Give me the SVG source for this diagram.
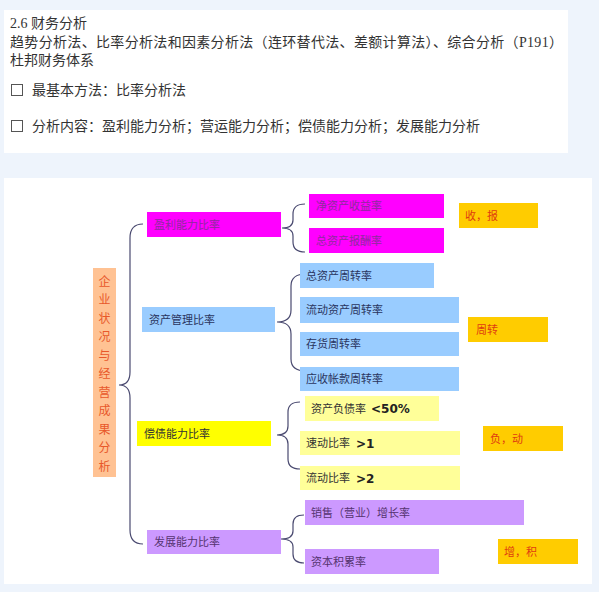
<svg xmlns="http://www.w3.org/2000/svg" width="599" height="592" viewBox="0 0 599 592">
<style>
.hd{font-family:"Liberation Serif","Noto Sans CJK SC",serif;font-size:14px;fill:#333}
.bx{font-family:"Noto Sans CJK SC",sans-serif;font-size:11px}
.br{fill:none;stroke:#4a4a70;stroke-width:1.2}
.gold{fill:#ffcc00}
.gt{fill:#e03c10}
.mag{fill:#ff00ff}
.mt{fill:#8e2a9e}
.blu{fill:#99ccff}
.bt{fill:#2a3560}
.lav{fill:#cc99ff}
.lt{fill:#553470}
.ly{fill:#ffff99}
.yt{fill:#333}
.num{font-family:"DejaVu Sans","Liberation Sans",sans-serif;font-weight:bold;font-size:12px;fill:#222}
</style>
<rect width="599" height="592" fill="#eef4fc"/>
<rect x="4" y="10" width="564" height="143" fill="#fff"/>
<rect x="4" y="178" width="588" height="406" fill="#fff"/>
<g id="header">
<text class="hd" x="10" y="28">2.6 财务分析</text>
<text class="hd" x="10" y="47" textLength="553" lengthAdjust="spacing">趋势分析法、比率分析法和因素分析法（连环替代法、差额计算法）、综合分析（P191）</text>
<text class="hd" x="10" y="65">杜邦财务体系</text>
<rect x="11.5" y="84.5" width="11" height="11" fill="none" stroke="#555" stroke-width="1"/>
<text class="hd" x="32" y="95">最基本方法：比率分析法</text>
<rect x="11.5" y="120.5" width="11" height="11" fill="none" stroke="#555" stroke-width="1"/>
<text class="hd" x="32" y="131">分析内容：盈利能力分析；营运能力分析；偿债能力分析；发展能力分析</text>
</g>
<g id="connectors">
<path class="br" d="M143 224 Q130 224 130 238 L130 372 Q130 385 119 385 Q130 385 130 398 L130 530 Q130 544 143 544"/>
<path class="br" d="M305 204 Q293 204 293 214 L293 220 Q293 228 282 228 Q293 228 293 236 L293 242 Q293 252 305 252"/>
<path class="br" d="M306 274 Q291 274 291 286 L291 310 Q291 322 277 322 Q291 322 291 334 L291 359 Q291 371 306 371"/>
<path class="br" d="M300 402 Q288 402 288 412 L288 426 Q288 435 277 435 Q288 435 288 444 L288 459 Q288 469 300 469"/>
<path class="br" d="M304 515 Q293 515 293 524 L293 531 Q293 539 281 539 Q293 539 293 547 L293 554 Q293 563 304 563"/>
</g>
<g id="root">
<rect x="93" y="268" width="23" height="209" fill="#ffc293"/>
<g font-family="Noto Sans CJK SC,sans-serif" font-size="12" fill="#e8582a" text-anchor="middle">
<text x="104.5" y="285.5">企</text>
<text x="104.5" y="304">业</text>
<text x="104.5" y="322.5">状</text>
<text x="104.5" y="341">况</text>
<text x="104.5" y="359.5">与</text>
<text x="104.5" y="378">经</text>
<text x="104.5" y="396.5">营</text>
<text x="104.5" y="415">成</text>
<text x="104.5" y="433.5">果</text>
<text x="104.5" y="452">分</text>
<text x="104.5" y="470.5">析</text>
</g>
</g>
<g id="profit">
<rect class="mag" x="147" y="212" width="134" height="25"/>
<text class="bx mt" x="154" y="228.5">盈利能力比率</text>
</g>
<g id="roe">
<rect class="mag" x="309" y="194" width="135" height="24"/>
<text class="bx mt" x="316" y="210">净资产收益率</text>
</g>
<g id="roa">
<rect class="mag" x="309" y="228" width="135" height="25"/>
<text class="bx mt" x="316" y="244.5">总资产报酬率</text>
</g>
<g id="note1">
<rect class="gold" x="459" y="203" width="79" height="25"/>
<text class="bx gt" x="465" y="219.5">收，报</text>
</g>
<g id="asset">
<rect class="blu" x="142" y="307" width="133" height="25"/>
<text class="bx bt" x="149" y="323.5">资产管理比率</text>
</g>
<g id="tat">
<rect class="blu" x="300" y="263" width="134" height="25"/>
<text class="bx bt" x="306" y="279.5">总资产周转率</text>
</g>
<g id="cat">
<rect class="blu" x="300" y="297" width="159" height="26"/>
<text class="bx bt" x="306" y="314">流动资产周转率</text>
</g>
<g id="it">
<rect class="blu" x="300" y="332" width="159" height="24"/>
<text class="bx bt" x="306" y="348">存货周转率</text>
</g>
<g id="art">
<rect class="blu" x="300" y="367" width="159" height="24"/>
<text class="bx bt" x="306" y="383">应收帐款周转率</text>
</g>
<g id="note2">
<rect class="gold" x="468" y="317" width="80" height="25"/>
<text class="bx gt" x="476" y="333.5">周转</text>
</g>
<g id="solv">
<rect x="137" y="421" width="134" height="25" fill="#ffff00"/>
<text class="bx yt" x="144" y="437.5">偿债能力比率</text>
</g>
<g id="dar">
<rect class="ly" x="305" y="396" width="134" height="25"/>
<text class="bx yt" x="311" y="412.5">资产负债率</text>
<text class="num" x="371" y="413">&lt;50%</text>
</g>
<g id="qr">
<rect class="ly" x="300" y="431" width="160" height="24"/>
<text class="bx yt" x="306" y="447">速动比率</text>
<text class="num" x="356" y="447.5">&gt;1</text>
</g>
<g id="cr">
<rect class="ly" x="300" y="466" width="160" height="24"/>
<text class="bx yt" x="306" y="482">流动比率</text>
<text class="num" x="356" y="482.5">&gt;2</text>
</g>
<g id="note3">
<rect class="gold" x="483" y="426" width="80" height="25"/>
<text class="bx gt" x="490" y="442.5">负，动</text>
</g>
<g id="growth">
<rect class="lav" x="147" y="530" width="134" height="24"/>
<text class="bx lt" x="154" y="546">发展能力比率</text>
</g>
<g id="sales">
<rect class="lav" x="305" y="500" width="219" height="25"/>
<text class="bx lt" x="311" y="516.5">销售（营业）增长率</text>
</g>
<g id="capital">
<rect class="lav" x="305" y="549" width="134" height="25"/>
<text class="bx lt" x="311" y="565.5">资本积累率</text>
</g>
<g id="note4">
<rect class="gold" x="498" y="539" width="80" height="25"/>
<text class="bx gt" x="504" y="555.5">增，积</text>
</g>
</svg>
